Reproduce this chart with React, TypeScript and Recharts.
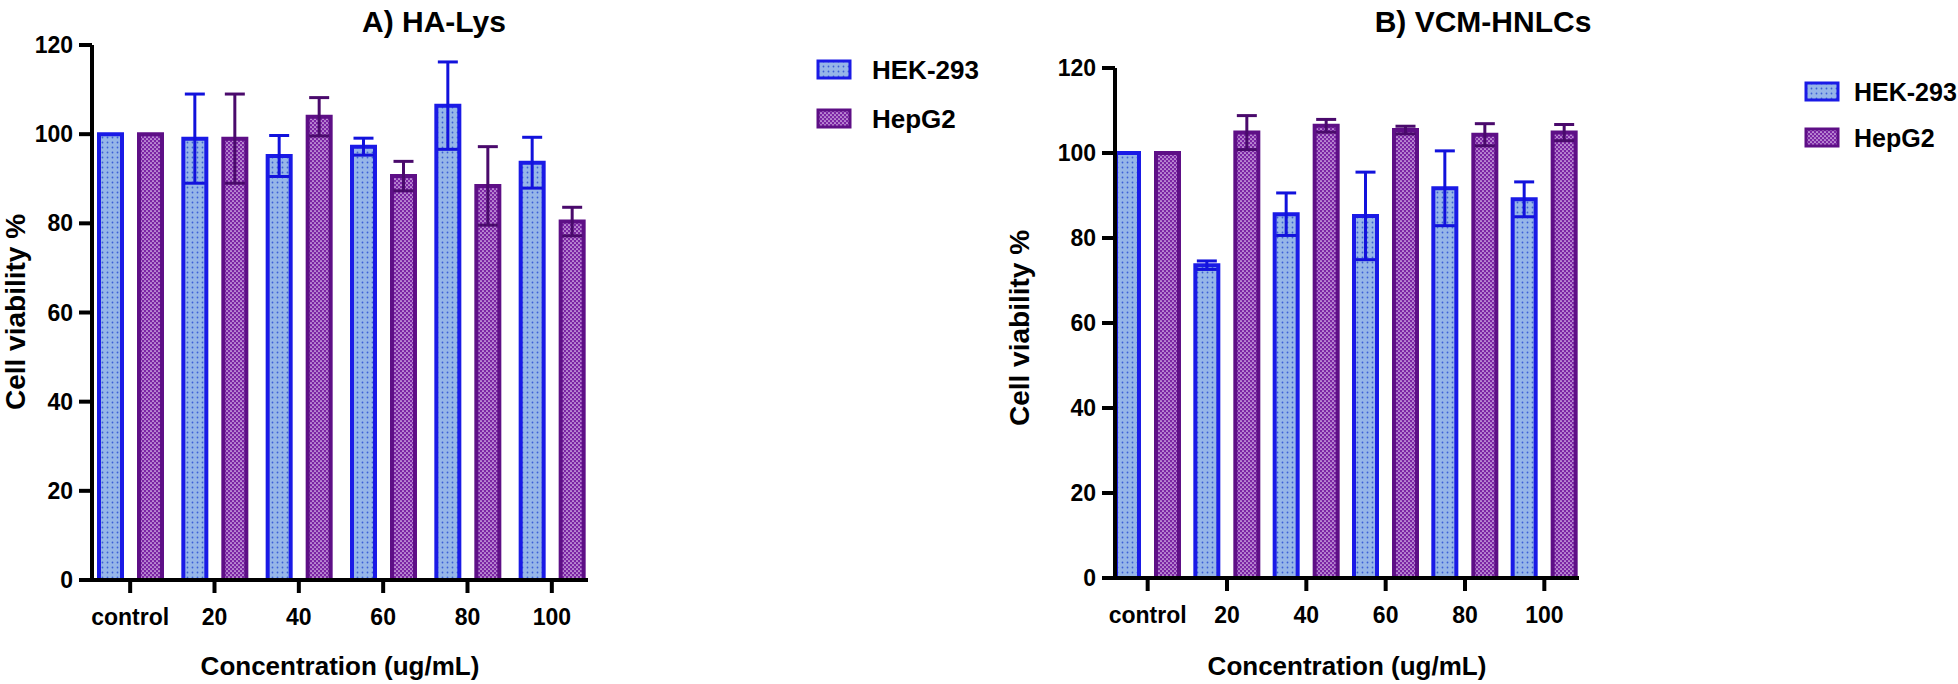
import { BarChart, Bar, XAxis, YAxis, ErrorBar, Legend, Label } from "recharts";

const categories = ["control", "20", "40", "60", "80", "100"];
const yTicks = [0, 20, 40, 60, 80, 100, 120];

// A) HA-Lys
const haHek = [100, 99, 95.1, 97.2, 106.4, 93.6];
const haHekSd = [0, 10, 4.6, 1.9, 9.8, 5.7];
const haHep = [100, 99, 103.9, 90.6, 88.4, 80.4];
const haHepSd = [0, 10, 4.3, 3.3, 8.8, 3.2];

// B) VCM-HNLCs
const vcmHek = [100, 73.6, 85.6, 85.2, 91.7, 89.1];
const vcmHekSd = [0, 1, 5, 10.3, 8.8, 4.1];
const vcmHep = [100, 104.8, 106.4, 105.4, 104.3, 104.8];
const vcmHepSd = [0, 4, 1.5, 0.9, 2.6, 1.9];

const FONT = "'Liberation Sans', Arial, sans-serif";
const HEK_STROKE = "#1a1ae6";
const HEP_STROKE = "#5e0f86";

const build = (hek: number[], hekSd: number[], hep: number[], hepSd: number[]) =>
  categories.map((c, i) => ({ conc: c, hek: hek[i], hekSd: hekSd[i], hep: hep[i], hepSd: hepSd[i] }));

const haData = build(haHek, haHekSd, haHep, haHepSd);
const vcmData = build(vcmHek, vcmHekSd, vcmHep, vcmHepSd);

const tickStyle = { fill: "#000", fontSize: 23, fontWeight: 700, fontFamily: FONT };
const axisStroke = { stroke: "#000", strokeWidth: 4 };

function Swatch({ kind }: { kind: "hek" | "hep" }) {
  return (
    <svg width={36} height={22} style={{ display: "block", flex: "none" }}>
      <rect
        x={2}
        y={2}
        width={32}
        height={17}
        fill={kind === "hek" ? "url(#hekPat)" : "url(#hepPat)"}
        stroke={kind === "hek" ? HEK_STROKE : HEP_STROKE}
        strokeWidth={3}
      />
    </svg>
  );
}

function LegendBox({ rowGap, textGap, fontSize }: { rowGap: number; textGap: number; fontSize: number }) {
  const rows: { kind: "hek" | "hep"; label: string }[] = [
    { kind: "hek", label: "HEK-293" },
    { kind: "hep", label: "HepG2" },
  ];
  return (
    <div style={{ fontFamily: FONT, fontWeight: 700, fontSize, color: "#000", lineHeight: "24px" }}>
      {rows.map((r, i) => (
        <div
          key={r.kind}
          style={{ display: "flex", alignItems: "center", gap: textGap, marginTop: i === 0 ? 0 : rowGap, height: 24 }}
        >
          <Swatch kind={r.kind} />
          <span style={{ whiteSpace: "nowrap" }}>{r.label}</span>
        </div>
      ))}
    </div>
  );
}

type PanelProps = {
  data: any[];
  title: string;
  titleX: number;
  width: number;
  margin: { top: number; right: number; bottom: number; left: number };
  xHeight: number;
  padding: { left: number; right: number };
  legendPos: { left: number; top: number };
  rowGap: number;
  textGap: number;
  legendFont: number;
  yLabelX: number;
  yLabelY: number;
};

function Panel(p: PanelProps) {
  return (
    <BarChart width={p.width} height={684} data={p.data} margin={p.margin} barGap={17}>
      <text x={p.titleX} y={32} textAnchor="middle" fontFamily={FONT} fontWeight={700} fontSize={30} fill="#000">
        {p.title}
      </text>
      <text
        x={p.yLabelX}
        y={p.yLabelY}
        transform={`rotate(-90 ${p.yLabelX} ${p.yLabelY})`}
        textAnchor="middle"
        fontFamily={FONT}
        fontWeight={700}
        fontSize={28}
        fill="#000"
      >
        Cell viability %
      </text>
      <XAxis
        dataKey="conc"
        height={p.xHeight}
        padding={p.padding}
        axisLine={axisStroke}
        tickLine={axisStroke}
        tickSize={13}
        tickMargin={16}
        tick={tickStyle}
        interval={0}
      >
        <Label
          value="Concentration (ug/mL)"
          position="insideBottom"
          offset={9}
          fill="#000"
          fontSize={26}
          fontWeight={700}
          fontFamily={FONT}
        />
      </XAxis>
      <YAxis
        domain={[0, 120]}
        ticks={yTicks}
        width={60}
        axisLine={axisStroke}
        tickLine={axisStroke}
        tickSize={13}
        tickMargin={6}
        tick={tickStyle}
        interval={0}
      />
      <Legend
        layout="vertical"
        verticalAlign="top"
        align="right"
        wrapperStyle={{ left: p.legendPos.left, top: p.legendPos.top, width: 160 }}
        content={() => <LegendBox rowGap={p.rowGap} textGap={p.textGap} fontSize={p.legendFont} />}
      />
      <Bar
        dataKey="hek"
        name="HEK-293"
        barSize={23}
        fill="url(#hekPat)"
        stroke={HEK_STROKE}
        strokeWidth={4}
        isAnimationActive={false}
      >
        <ErrorBar dataKey="hekSd" width={10} strokeWidth={3} stroke="#1212dc" direction="y" />
      </Bar>
      <Bar
        dataKey="hep"
        name="HepG2"
        barSize={23}
        fill="url(#hepPat)"
        stroke={HEP_STROKE}
        strokeWidth={4}
        isAnimationActive={false}
      >
        <ErrorBar dataKey="hepSd" width={10} strokeWidth={3} stroke="#4a0a6c" direction="y" />
      </Bar>
    </BarChart>
  );
}

export default function App() {
  return (
    <div style={{ position: "absolute", left: 0, top: 0, width: 1958, height: 684, background: "#fff", overflow: "hidden" }}>
      <svg width={0} height={0} style={{ position: "absolute" }}>
        <defs>
          <pattern id="hekPat" patternUnits="userSpaceOnUse" width={5} height={5}>
            <rect width={5} height={5} fill="#96b6e8" />
            <circle cx={2.5} cy={2.5} r={0.9} fill="#3c5fd6" />
          </pattern>
          <pattern id="hepPat" patternUnits="userSpaceOnUse" width={4} height={4}>
            <rect width={4} height={4} fill="#7b24a4" />
            <circle cx={1} cy={1} r={0.85} fill="#ead6f6" />
            <circle cx={3} cy={3} r={0.85} fill="#ead6f6" />
          </pattern>
        </defs>
      </svg>
      <div style={{ position: "absolute", left: 0, top: 0 }}>
        <Panel
          data={haData}
          title="A) HA-Lys"
          titleX={434}
          width={1000}
          margin={{ top: 45, right: 252, bottom: 0, left: 32 }}
          xHeight={104}
          padding={{ left: -4, right: -6 }}
          legendPos={{ left: 816, top: 58 }}
          rowGap={25}
          textGap={20}
          legendFont={26}
          yLabelX={25}
          yLabelY={312}
        />
      </div>
      <div style={{ position: "absolute", left: 1000, top: 0 }}>
        <Panel
          data={vcmData}
          title="B) VCM-HNLCs"
          titleX={483}
          width={958}
          margin={{ top: 68, right: 219, bottom: 0, left: 55 }}
          xHeight={106}
          padding={{ left: -7, right: -5 }}
          legendPos={{ left: 804, top: 80 }}
          rowGap={22}
          textGap={14}
          legendFont={25}
          yLabelX={29}
          yLabelY={328}
        />
      </div>
    </div>
  );
}
